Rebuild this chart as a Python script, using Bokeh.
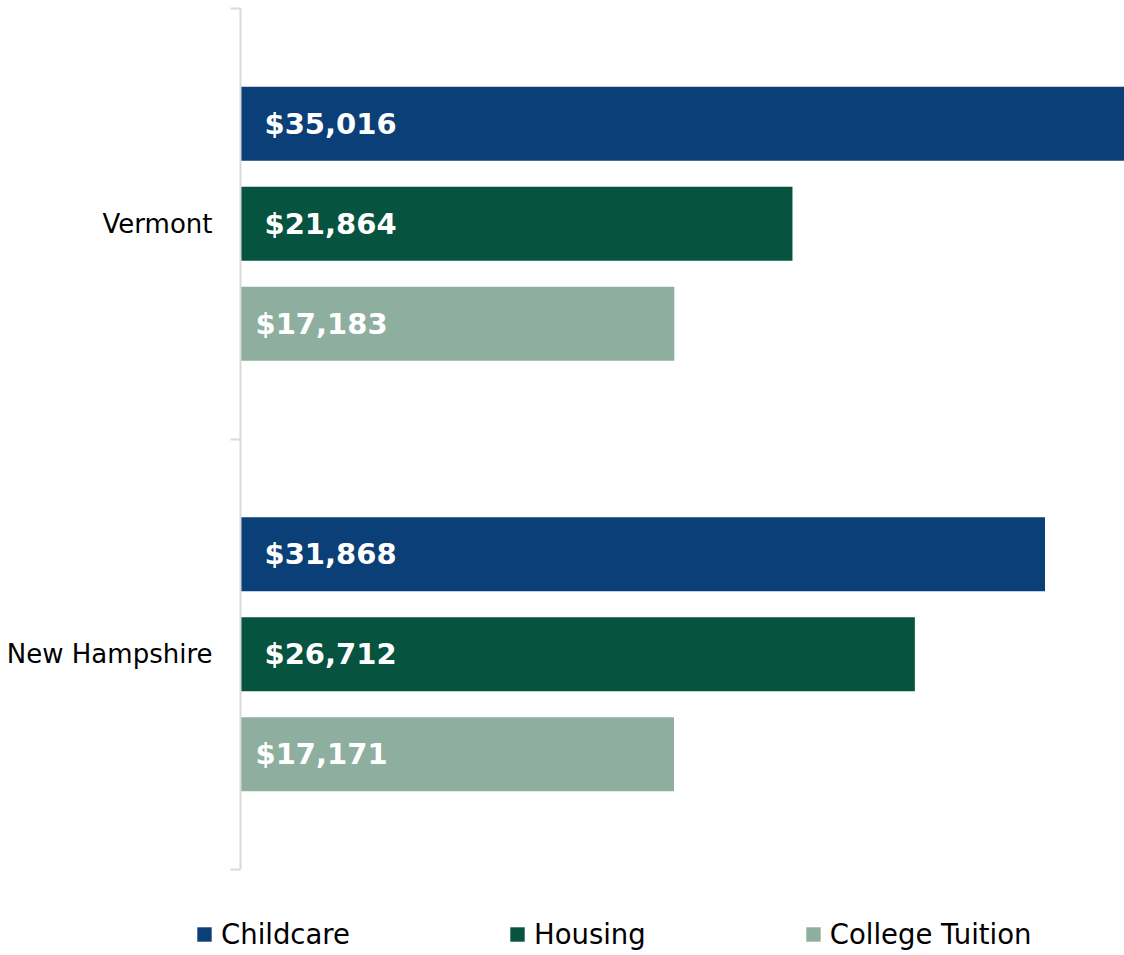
from bokeh.plotting import figure
from bokeh.models import Range1d, FixedTicker, ColumnDataSource, Legend, LegendItem
from bokeh.core.properties import value
from bokeh.embed import file_html
from bokeh.resources import INLINE

# ---- data ----
states = ["New Hampshire", "Vermont"]          # bottom -> top
series = ["Childcare", "Housing", "College Tuition"]
childcare = [31868, 35016]
housing = [26712, 21864]
college = [17171, 17183]

# ---- style / layout (pixels) ----
colors = ["#0A3F78", "#06543F", "#8EAF9F"]
offsets = [0.2323, 0.0, -0.2323]
label_x_offsets = [24, 24, 15]
bar_h = 0.172
FONT = "DejaVu Sans"
W, H = 1124, 955
PLOT_LEFT, PLOT_TOP, PLOT_BOTTOM = 240, 8, 869

xmax = max(childcare)
px_per_x = (W - PLOT_LEFT) / xmax
px_per_y = (PLOT_BOTTOM - PLOT_TOP) / len(states)

p = figure(width=W, height=H, output_backend="svg", toolbar_location=None,
           x_range=Range1d(-PLOT_LEFT / px_per_x, xmax),
           y_range=Range1d(-(H - PLOT_BOTTOM) / px_per_y, len(states) + PLOT_TOP / px_per_y),
           min_border_left=0, min_border_right=0, min_border_top=0,
           min_border_bottom=0)
p.outline_line_color = None
p.xgrid.visible = False
p.ygrid.visible = False
p.xaxis.visible = False
p.background_fill_color = "white"
p.border_fill_color = "white"

renderers = []
for vals, name, col, off, lxo in zip([childcare, housing, college], series, colors, offsets, label_x_offsets):
    ys = [i + 0.5 + off for i in range(len(states))]
    src = ColumnDataSource(dict(y=ys, right=vals,
                                lab=["${:,}".format(v) for v in vals]))
    r = p.hbar(y="y", left=0, right="right", height=bar_h, source=src,
               fill_color=col, line_color=None)
    renderers.append((name, r))
    p.text(x=0, y="y", text="lab", source=src, x_offset=lxo,
           text_font=value(FONT), text_font_style="bold", text_font_size="29px",
           text_color="white", text_baseline="middle", text_align="left")

ax = p.yaxis[0]
ax.fixed_location = 0
ax.bounds = (0, len(states))
ax.ticker = FixedTicker(ticks=[i + 0.5 for i in range(len(states))],
                        minor_ticks=list(range(len(states) + 1)))
ax.major_label_overrides = {i + 0.5: s for i, s in enumerate(states)}
ax.major_tick_out = 0
ax.major_tick_in = 0
ax.minor_tick_out = 10
ax.minor_tick_in = 0
ax.minor_tick_line_color = "#D9D9D9"
ax.minor_tick_line_width = 2
ax.axis_line_color = "#D9D9D9"
ax.axis_line_width = 2
ax.major_label_text_font = FONT
ax.major_label_text_font_size = "26px"
ax.major_label_text_color = "black"
ax.major_label_standoff = 18

legend = Legend(items=[LegendItem(label=n, renderers=[r]) for n, r in renderers],
                orientation="horizontal", location=(195, 5),
                label_text_font=FONT, label_text_font_size="27.5px",
                label_text_color="black",
                glyph_width=18, glyph_height=18, label_height=18,
                label_standoff=8, spacing=158, padding=0, margin=0,
                border_line_color=None, background_fill_alpha=0)
p.add_layout(legend, "center")

open("out.html", "w").write(file_html(p, INLINE))
